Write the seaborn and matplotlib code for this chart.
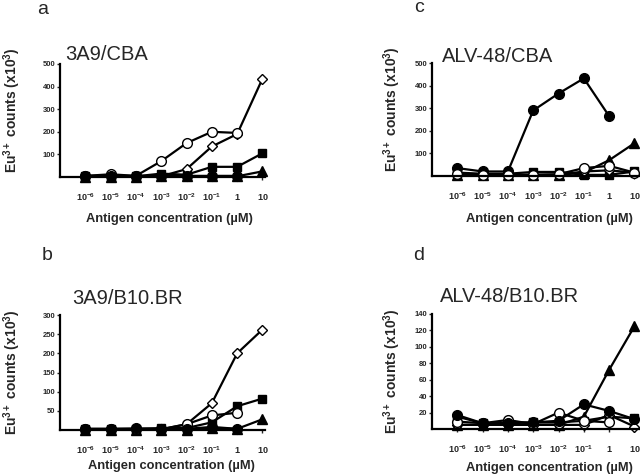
import numpy as np
import pandas as pd
import seaborn as sns
import matplotlib
matplotlib.use("Agg")
import matplotlib.pyplot as plt

sns.set_style("white")
plt.rcParams["font.family"] = ["Liberation Sans", "DejaVu Sans"]
plt.rcParams["mathtext.fontset"] = "custom"
plt.rcParams["mathtext.rm"] = "Liberation Sans:bold"
plt.rcParams["mathtext.it"] = "Liberation Sans:bold"
plt.rcParams["mathtext.bf"] = "Liberation Sans:bold"
plt.rcParams["mathtext.default"] = "rm"

# antigen concentrations (uM)
conc = ["1e-6", "1e-5", "1e-4", "1e-3", "1e-2", "1e-1", "1", "10"]
conc_labels = [r"$10^{-6}$", r"$10^{-5}$", r"$10^{-4}$", r"$10^{-3}$",
               r"$10^{-2}$", r"$10^{-1}$", r"$1$", r"$10$"]
nan = np.nan

# panel a: 3A9/CBA
a_tri = [2, 2, 2, 3, 3, 3, 3, 25]
a_sq = [3, 3, 3, 15, 10, 45, 45, 105]
a_fcirc = [5, 6, 5, 5, 5, 5, 5, nan]
a_diam = [3, 3, 3, 3, 35, 135, 190, 435]
a_ocirc = [5, 12, 5, 70, 150, 200, 195, nan]

# panel b: 3A9/B10.BR
b_tri = [1, 1, 1, 1, 0, 5, 3, 28]
b_sq = [3, 3, 3, 5, 5, 20, 62, 82]
b_fcirc = [3, 3, 4, 3, 3, 8, 3, nan]
b_diam = [2, 2, 2, 2, 15, 70, 200, 262]
b_ocirc = [2, 2, 2, 2, 15, 38, 45, nan]

# panel c: ALV-48/CBA
c_tri = [5, 5, 5, 5, 5, 15, 70, 145]
c_sq = [15, 10, 10, 18, 18, 5, 5, 20]
c_diam = [5, 5, 5, 5, 5, 20, 25, 15]
c_fcirc = [35, 20, 20, 290, 365, 432, 265, nan]
c_ocirc = [10, 3, 3, 5, 8, 35, 45, 15]

# panel d: ALV-48/B10.BR
d_tri = [5, 5, 5, 5, 5, 15, 72, 125]
d_sq = [15, 7, 8, 8, 8, 10, 15, 13]
d_diam = [5, 5, 5, 5, 5, 5, 17, 3]
d_ocirc = [9, 7, 11, 6, 20, 10, 8, nan]
d_fcirc = [17, 7, 7, 8, 10, 30, 22, 12]

styles = {
    "tri": dict(marker="^", markerfacecolor="black", markersize=6.5),
    "sq": dict(marker="s", markerfacecolor="black", markersize=6),
    "fcirc": dict(marker="o", markerfacecolor="black", markersize=7),
    "diam": dict(marker="D", markerfacecolor="white", markersize=5.5),
    "ocirc": dict(marker="o", markerfacecolor="white", markersize=7),
}

panels = [
    dict(letter="a", title="3A9/CBA", box=(60, 265, 64, 177), ymax=500,
         yticks=[100, 200, 300, 400, 500], xmax=8.1, ylab=(23, 0.59),
         series=[("tri", a_tri), ("sq", a_sq), ("diam", a_diam),
                 ("ocirc", a_ocirc), ("fcirc", a_fcirc)],
         letter_xy=(43, 9), title_xy=(65, 54), xlab_xy=(169, 219)),
    dict(letter="b", title="3A9/B10.BR", box=(60, 265, 315, 430), ymax=300,
         yticks=[50, 100, 150, 200, 250, 300], xmax=8.1, ylab=(23, 0.5),
         series=[("tri", b_tri), ("sq", b_sq), ("diam", b_diam),
                 ("ocirc", b_ocirc), ("fcirc", b_fcirc)],
         letter_xy=(47, 255), title_xy=(72, 298), xlab_xy=(171, 466)),
    dict(letter="c", title="ALV-48/CBA", box=(432, 640, 63, 176), ymax=500,
         yticks=[100, 200, 300, 400, 500], xmax=8.22, ylab=(403, 0.59),
         series=[("tri", c_tri), ("sq", c_sq), ("diam", c_diam),
                 ("fcirc", c_fcirc), ("ocirc", c_ocirc)],
         letter_xy=(419, 8), title_xy=(442, 56), xlab_xy=(549, 219)),
    dict(letter="d", title="ALV-48/B10.BR", box=(432, 640, 314, 429), ymax=140,
         yticks=[20, 40, 60, 80, 100, 120, 140], xmax=8.22, ylab=(403, 0.5),
         series=[("tri", d_tri), ("sq", d_sq), ("diam", d_diam),
                 ("ocirc", d_ocirc), ("fcirc", d_fcirc)],
         letter_xy=(419, 255), title_xy=(440, 296), xlab_xy=(549, 468)),
]

W, H = 640, 476
fig = plt.figure(figsize=(6.4, 4.76), dpi=100)
x = np.arange(1, len(conc) + 1)

for p in panels:
    l, r, t, b = p["box"]
    ax = fig.add_axes([l / W, 1 - b / H, (r - l) / W, (b - t) / H])
    for key, vals in p["series"]:
        df = pd.DataFrame({"x": x, "y": vals})
        sns.lineplot(data=df, x="x", y="y", ax=ax, color="black", lw=1.6,
                     markeredgecolor="black", markeredgewidth=1.0,
                     clip_on=False, **styles[key])
    ax.set_xlim(0, p["xmax"])
    ax.set_ylim(0, p["ymax"])
    ax.set_xticks(x)
    ax.set_xticklabels(conc_labels)
    ax.set_yticks(p["yticks"])
    ax.set_yticklabels([str(v) for v in p["yticks"]])
    for lab in ax.get_yticklabels():
        lab.set_fontweight("bold")
    ax.tick_params(axis="x", length=2.5, width=1, pad=8, labelsize=6.5,
                   direction="out", bottom=True)
    ax.tick_params(axis="y", length=2.5, width=1, pad=1, labelsize=5.5,
                   direction="out", left=True)
    for s in ["top", "right"]:
        ax.spines[s].set_visible(False)
    for s in ["left", "bottom"]:
        ax.spines[s].set_linewidth(1.6)
        ax.spines[s].set_color("black")
    ax.set_xlabel("")
    ax.set_ylabel(r"Eu$^{3+}$ counts (x10$^{3}$)", fontsize=10, fontweight="bold")
    ax.yaxis.set_label_coords((p["ylab"][0] - l) / (r - l), p["ylab"][1])
    fig.text(p["xlab_xy"][0] / W, 1 - p["xlab_xy"][1] / H,
             "Antigen concentration (µM)", fontsize=9.3, fontweight="bold",
             ha="center", va="center")
    fig.text(p["title_xy"][0] / W, 1 - p["title_xy"][1] / H, p["title"],
             fontsize=14.5, ha="left", va="center")
    fig.text(p["letter_xy"][0] / W, 1 - p["letter_xy"][1] / H, p["letter"],
             fontsize=14, ha="center", va="center")

fig.savefig("out.png", dpi=100, facecolor="white")
